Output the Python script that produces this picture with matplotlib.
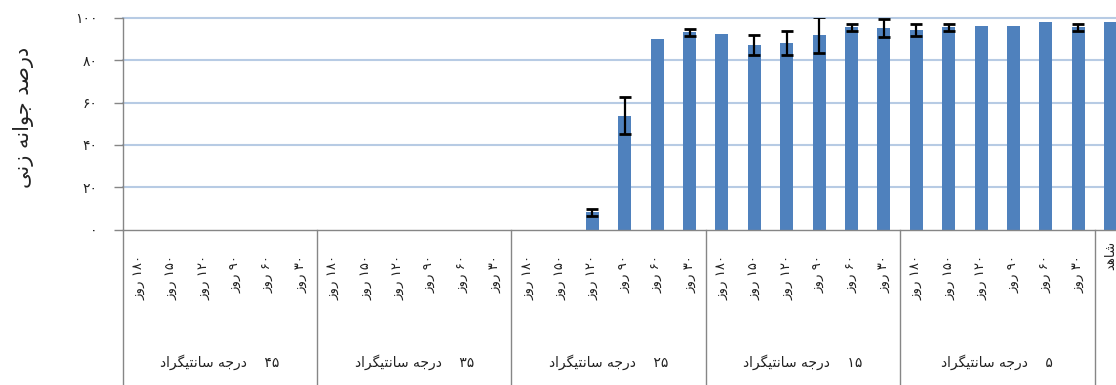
import re
import matplotlib
matplotlib.use('Agg')
import matplotlib.pyplot as plt
from matplotlib.transforms import blended_transform_factory
from matplotlib.lines import Line2D

# ---------------------------------------------------------------------------
# Data: germination percentage by storage temperature and storage duration
# ---------------------------------------------------------------------------
temps = ['۵', '۱۵', '۲۵', '۳۵', '۴۵']            # storage temperature (°C)
days = ['۳۰', '۶۰', '۹۰', '۱۲۰', '۱۵۰', '۱۸۰']   # storage duration (days)
control_label = 'شاهد'
control_value = 97.9
control_err = 0.0

germ_5 = [95.6, 97.9, 96.4, 96.4, 95.6, 94.3]
err_5 = [1.6, 0.0, 0.0, 0.0, 1.6, 2.8]
germ_15 = [95.3, 95.6, 92.0, 88.0, 87.2, 92.3]
err_15 = [4.4, 1.6, 8.5, 5.6, 4.6, 0.0]
germ_25 = [93.2, 90.1, 53.9, 8.3, 0.0, 0.0]
err_25 = [1.6, 0.0, 8.7, 1.6, 0.0, 0.0]
germ_35 = [0.0, 0.0, 0.0, 0.0, 0.0, 0.0]
err_35 = [0.0, 0.0, 0.0, 0.0, 0.0, 0.0]
germ_45 = [0.0, 0.0, 0.0, 0.0, 0.0, 0.0]
err_45 = [0.0, 0.0, 0.0, 0.0, 0.0, 0.0]

y_label = 'درصد جوانه زنی'
day_word = 'روز'
temp_word = 'درجه سانتیگراد'
y_ticks = [0, 20, 40, 60, 80, 100]

# ---------------------------------------------------------------------------
# Minimal Persian shaping (contextual forms + right-to-left visual order)
# ---------------------------------------------------------------------------
FORMS = {  # isolated, final, initial, medial (None: no join to next letter)
    'ا': ('\uFE8D', '\uFE8E', None, None),
    'د': ('\uFEA9', '\uFEAA', None, None),
    'ر': ('\uFEAD', '\uFEAE', None, None),
    'ز': ('\uFEAF', '\uFEB0', None, None),
    'و': ('\uFEED', '\uFEEE', None, None),
    'ج': ('\uFE9D', '\uFE9E', '\uFE9F', '\uFEA0'),
    'ه': ('\uFEE9', '\uFEEA', '\uFEEB', '\uFEEC'),
    'س': ('\uFEB1', '\uFEB2', '\uFEB3', '\uFEB4'),
    'ش': ('\uFEB5', '\uFEB6', '\uFEB7', '\uFEB8'),
    'ص': ('\uFEB9', '\uFEBA', '\uFEBB', '\uFEBC'),
    'ن': ('\uFEE5', '\uFEE6', '\uFEE7', '\uFEE8'),
    'ت': ('\uFE95', '\uFE96', '\uFE97', '\uFE98'),
    'ی': ('\uFBFC', '\uFBFD', '\uFBFE', '\uFBFF'),
    'گ': ('\uFB92', '\uFB93', '\uFB94', '\uFB95'),
}


def fa(text):
    out = []
    for i, ch in enumerate(text):
        if ch not in FORMS:
            out.append(ch)
            continue
        prev = text[i - 1] if i > 0 else ''
        nxt = text[i + 1] if i + 1 < len(text) else ''
        joins_prev = prev in FORMS and FORMS[prev][2] is not None
        joins_next = FORMS[ch][2] is not None and nxt in FORMS
        iso, fin, ini, med = FORMS[ch]
        if joins_prev and joins_next:
            out.append(med)
        elif joins_prev:
            out.append(fin)
        elif joins_next:
            out.append(ini)
        else:
            out.append(iso)
    visual = ''.join(out)[::-1]
    return re.sub('[\u06F0-\u06F9]+', lambda m: m.group(0)[::-1], visual)


def fa_digits(n):
    return str(n).translate(str.maketrans('0123456789', '۰۱۲۳۴۵۶۷۸۹'))


# ---------------------------------------------------------------------------
# Assemble categories (control first; axis runs right-to-left)
# ---------------------------------------------------------------------------
values = [control_value] + germ_5 + germ_15 + germ_25 + germ_35 + germ_45
errors = [control_err] + err_5 + err_15 + err_25 + err_35 + err_45
xpos = list(range(len(values)))

plt.rcParams['font.family'] = ['DejaVu Sans']

fig = plt.figure(figsize=(11.16, 3.85), dpi=100)
ax = fig.add_axes([0.1098, 0.4034, 0.9, 0.55])

bar_color = '#4F81BD'
axis_gray = '#868686'
grid_color = '#B7CBE4'

for v in y_ticks[1:]:
    ax.axhline(v, color=grid_color, linewidth=1.5, zorder=0, clip_on=False)

ax.bar(xpos, values, width=0.4, color=bar_color, zorder=2)

ex = [x for x, e in zip(xpos, errors) if e > 0]
ey = [v for v, e in zip(values, errors) if e > 0]
ee = [e for e in errors if e > 0]
ax.errorbar(ex, ey, yerr=ee, fmt='none', ecolor='black', elinewidth=1.6,
            capsize=4.6, capthick=2.0, zorder=3)

ax.set_xlim(len(values) - 0.5, -0.5)
ax.set_ylim(0, 100)

ax.set_yticks(y_ticks)
ax.set_yticklabels([fa_digits(t) for t in y_ticks], fontsize=10, color='#222222')
ax.tick_params(axis='y', direction='out', length=6.5, width=1.0,
               color=axis_gray, pad=11.5)
ax.set_xticks([])

for side in ('top', 'right'):
    ax.spines[side].set_visible(False)
for side in ('left', 'bottom'):
    ax.spines[side].set_color(axis_gray)
    ax.spines[side].set_linewidth(1.0)

# Category axis: labels below the plot and group separators
data_fig = blended_transform_factory(ax.transData, fig.transFigure)
axes_fig = blended_transform_factory(ax.transAxes, fig.transFigure)
bottom = ax.get_position().y0

fig.add_artist(Line2D([0, 0], [0, bottom], transform=axes_fig,
                      color=axis_gray, linewidth=1.0))
for b in [0.5, 6.5, 12.5, 18.5, 24.5]:
    fig.add_artist(Line2D([b, b], [0, bottom], transform=data_fig,
                          color=axis_gray, linewidth=1.0))

ax.text(0, 0.375, fa(control_label), transform=data_fig, rotation=90,
        ha='center', va='top', fontsize=9.5, color='#222222', clip_on=False)

for g, t in enumerate(temps):
    start = 1 + g * len(days)
    for k, d in enumerate(days):
        ax.text(start + k, 0.3377, fa(d + ' ' + day_word), transform=data_fig,
                rotation=90, ha='center', va='top', fontsize=9.5,
                color='#222222', clip_on=False)
    centre = start + (len(days) - 1) / 2
    ax.text(centre, 0.06, fa(t + '    ' + temp_word), transform=data_fig,
            ha='center', va='center', fontsize=10, color='#222222',
            clip_on=False)

fig.text(0.021, 0.694, fa(y_label), rotation=90, ha='center', va='center',
         fontsize=15, color='#222222')

fig.savefig('out.png', dpi=100)
